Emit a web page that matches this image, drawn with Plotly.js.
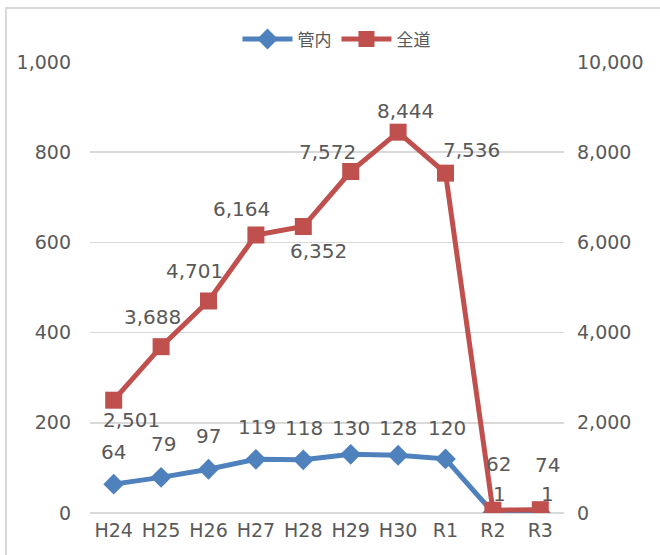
<!DOCTYPE html>
<html>
<head>
<meta charset="utf-8">
<script src="https://cdn.plot.ly/plotly-3.0.1.min.js"></script>
<style>html,body{margin:0;padding:0;background:#fff;}#chart{width:660px;height:555px;}</style>
</head>
<body>
<div id="chart"></div>
<script>
// ---- data ----
const categories = ["H24","H25","H26","H27","H28","H29","H30","R1","R2","R3"];
const kannai = [64, 79, 97, 119, 118, 130, 128, 120, 1, 1];          // 管内 (left axis)
const zendo  = [2501, 3688, 4701, 6164, 6352, 7572, 8444, 7536, 62, 74]; // 全道 (right axis)
const seriesNames = ["管内", "全道"];
const leftTicks = [0, 200, 400, 600, 800, 1000];
const rightTicks = [0, 2000, 4000, 6000, 8000, 10000];

// ---- label offsets (pixels, style only) ----
const kannaiLabelDx = [0, 2, 0, 1, 1, 0, 0, 1, 7, 7];
const kannaiLabelDy = [32, 33, 33, 32, 32, 26, 27, 31, 19, 19];
const zendoLabelDx = [18, -9, -14, -14, 15, -23, 7, 26, 6, 7];
const zendoLabelDy = [-20, 30, 30, 26, -24, 20, 21, 23, 46, 45];

const grey = "#595959";
const fontFam = "DejaVu Sans, Noto Sans CJK JP, sans-serif";
const fmt = v => v.toLocaleString("en-US");

const traces = [
  {
    x: categories, y: kannai, name: seriesNames[0], type: "scatter", mode: "lines+markers",
    line: {color: "#4F81BD", width: 5},
    marker: {symbol: "diamond", size: 16, color: "#4F81BD"},
    yaxis: "y"
  },
  {
    x: categories, y: zendo, name: seriesNames[1], type: "scatter", mode: "lines+markers",
    line: {color: "#C0504D", width: 5},
    marker: {symbol: "square", size: 17, color: "#C0504D"},
    yaxis: "y2"
  }
];

const annotations = [];
categories.forEach((c, i) => {
  annotations.push({x: c, y: kannai[i], xref: "x", yref: "y", text: fmt(kannai[i]),
    showarrow: false, xshift: kannaiLabelDx[i], yshift: kannaiLabelDy[i],
    font: {family: fontFam, size: 20, color: grey}});
  annotations.push({x: c, y: zendo[i], xref: "x", yref: "y2", text: fmt(zendo[i]),
    showarrow: false, xshift: zendoLabelDx[i], yshift: zendoLabelDy[i],
    font: {family: fontFam, size: 20, color: grey}});
});
annotations.push({xref: "paper", yref: "paper", x: 1.1, y: 1.128, yanchor: "bottom",
  text: "（単位：人）", showarrow: false, font: {family: "Noto Sans CJK JP", size: 15, color: grey}});

const layout = {
  width: 660, height: 555,
  margin: {l: 90, r: 96, t: 62, b: 42},
  paper_bgcolor: "#fff", plot_bgcolor: "#fff",
  font: {family: fontFam, color: grey, size: 19},
  showlegend: true,
  legend: {orientation: "h", x: 0.52, xanchor: "center", y: 1.05, yanchor: "middle",
    itemwidth: 50,
    font: {family: "Noto Sans CJK JP, sans-serif", size: 17, color: grey}, bgcolor: "rgba(0,0,0,0)"},
  xaxis: {type: "category", range: [-0.5, 9.5], showgrid: false, zeroline: false,
    showline: false, ticks: "", ticklabelstandoff: 4, tickfont: {size: 19, color: grey}, fixedrange: true},
  yaxis: {range: [0, 1000], tickvals: leftTicks, ticktext: leftTicks.map(fmt),
    showgrid: true, gridcolor: "#d9d9d9", gridwidth: 1.5, zeroline: true, zerolinecolor: "#d9d9d9",
    zerolinewidth: 1.5, showline: false, ticks: "", ticklabelstandoff: 18,
    tickfont: {size: 19, color: grey}},
  yaxis2: {range: [0, 10000], tickvals: rightTicks, ticktext: rightTicks.map(fmt),
    overlaying: "y", side: "right", showgrid: false, zeroline: false, showline: false,
    ticks: "", ticklabelstandoff: 12, tickfont: {size: 19, color: grey}},
  annotations: annotations,
  shapes: [{type: "rect", xref: "paper", yref: "paper",
    x0: (6 - 90) / 474, x1: 1.4, y0: -0.3, y1: (513 - 8) / 451,
    line: {color: "#d9d9d9", width: 2}, layer: "below"}]
};

Plotly.newPlot("chart", traces, layout, {displayModeBar: false, staticPlot: true});
</script>
</body>
</html>
